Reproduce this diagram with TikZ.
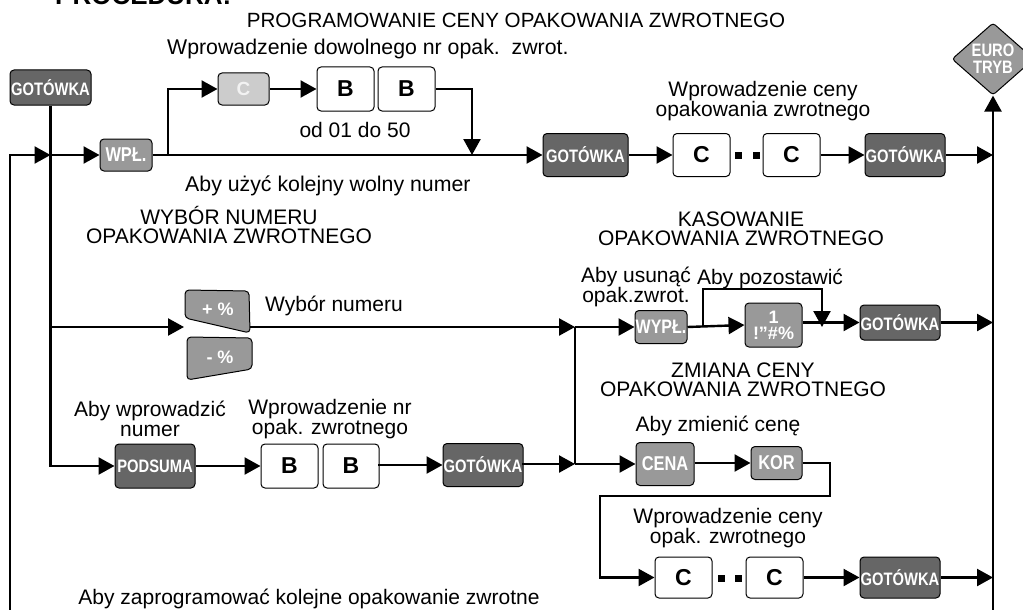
\documentclass[tikz,border=0pt]{standalone}
\usepackage{fontspec}
\setmainfont{Liberation Sans}
\newfontfamily\keyfont{Liberation Sans}[FakeStretch=0.82]
\usetikzlibrary{arrows.meta,shapes.geometric}
\definecolor{kdark}{HTML}{666666}
\definecolor{kmid}{HTML}{999999}
\definecolor{klight}{HTML}{CCCCCC}
\definecolor{ktxt}{HTML}{F2F2F2}
\tikzset{
  ln/.style={line width=2.4pt},
  arr/.style={line width=2.4pt,-{Triangle[length=16pt,width=17pt]}},
  key/.style={draw=black,line width=1pt,rounded corners=4pt,inner sep=0pt,text=white,
    font=\keyfont\bfseries\fontsize{18}{18}\selectfont,align=center},
  dark/.style={key,fill=kdark},
  mid/.style={key,fill=kmid,font=\keyfont\bfseries\fontsize{20}{20}\selectfont},
  light/.style={key,fill=klight,text=ktxt},
  wbox/.style={draw=black,line width=1pt,rounded corners=4pt,fill=white,inner sep=0pt,
    font=\bfseries\fontsize{23}{23}\selectfont},
  lbl/.style={font=\fontsize{21}{19.5}\selectfont,align=center,inner sep=0pt},
  dotsq/.style={fill=black,inner sep=0pt,minimum size=7pt},
}
\begin{document}
\begin{tikzpicture}[x=1pt,y=-1pt]
\useasboundingbox (0,0) rectangle (1023,610);

% ---- keys ----
\node[dark,minimum width=81,minimum height=35] (got1) at (50.5,87.5) {GOTÓWKA};
\node[mid,minimum width=52,minimum height=32] (wpl) at (126,155) {WPŁ.};
\node[light,minimum width=51,minimum height=32,font=\bfseries\fontsize{19}{19}\selectfont] (ck) at (243.5,89) {C};
\node[wbox,minimum width=57,minimum height=44] (b1) at (345.5,89) {B};
\node[wbox,minimum width=57,minimum height=44] (b2) at (406.5,89) {B};
\node[dark,minimum width=85,minimum height=43] (got2) at (585.5,155) {GOTÓWKA};
\node[wbox,minimum width=57,minimum height=43] (c1) at (701.5,155) {C};
\node[wbox,minimum width=57,minimum height=43] (c2) at (791.5,155) {C};
\node[dotsq] (d1) at (738.5,155) {};
\node[dotsq] (d2) at (756.5,155) {};
\node[dark,minimum width=80,minimum height=43] (got3) at (905,155) {GOTÓWKA};
\node[diamond,draw=black,line width=1pt,fill=kmid,rounded corners=3pt,inner sep=0pt,
  minimum width=82,minimum height=55,text=white,align=center,
  font=\keyfont\bfseries\fontsize{18}{17}\selectfont] (euro) at (993,59) {EURO\\TRYB};

% +% and -% keys
\draw[line width=1pt,fill=kmid,rounded corners=4pt] (185,290) -- (249,291) -- (250,333) -- (185,318) -- cycle;
\draw[line width=1pt,fill=kmid,rounded corners=4pt] (187,337) -- (252,338) -- (252,369) -- (187,380) -- cycle;
\node[text=white,font=\bfseries\fontsize{18}{18}\selectfont] (pk) at (218,309) {+ \%};
\node[text=white,font=\bfseries\fontsize{18}{18}\selectfont] (mk) at (220,357) {- \%};

\node[mid,minimum width=52,minimum height=33,font=\keyfont\bfseries\fontsize{19.5}{19.5}\selectfont] (wypl) at (661,327) {WYPŁ.};
\node[mid,minimum width=57,minimum height=44,font=\bfseries\fontsize{18}{16}\selectfont] (one) at (773.5,325) {1\\!”\#\%};
\node[dark,minimum width=80,minimum height=35] (got4) at (900,322.5) {GOTÓWKA};

\node[dark,minimum width=80,minimum height=44] (podsuma) at (155,466) {PODSUMA};
\node[wbox,minimum width=57,minimum height=44] (b3) at (289.5,466) {B};
\node[wbox,minimum width=56,minimum height=44] (b4) at (351,466) {B};
\node[dark,minimum width=80,minimum height=43] (got5) at (483,465) {GOTÓWKA};
\node[mid,minimum width=58,minimum height=43,font=\keyfont\bfseries\fontsize{20}{20}\selectfont] (cena) at (665,464) {CENA};
\node[mid,minimum width=51,minimum height=33] (kor) at (776.5,463) {KOR};

\node[wbox,minimum width=57,minimum height=41] (c3) at (683.5,577.5) {C};
\node[wbox,minimum width=57,minimum height=41] (c4) at (774.5,577.5) {C};
\node[dotsq] (d3) at (721.5,578) {};
\node[dotsq] (d4) at (738.5,578) {};
\node[dark,minimum width=80,minimum height=41] (got6) at (900,577.5) {GOTÓWKA};

% ---- coordinates ----
\coordinate (lb) at (10,610);
\coordinate (j1) at (50.5,155);
\coordinate (br1) at (168,155);
\coordinate (dn1) at (472,155);
\coordinate (r1) at (993,155);
\coordinate (rb) at (993,610);
\coordinate (j2) at (50.5,327);
\coordinate (pkw) at (184,327);
\coordinate (pke) at (250,327);
\coordinate (m1) at (575,327);
\coordinate (m2) at (575,464);
\coordinate (br2) at (703,327);
\coordinate (up2) at (703,289);
\coordinate (dn2) at (822,327);
\coordinate (r2) at (993,322.5);
\coordinate (k2a) at (830,496);
\coordinate (k2) at (600,496);
\coordinate (r3) at (993,577.5);

% ---- connectors ----
\draw[arr] (got1.south) |- (podsuma.west);
\draw[arr] (lb) |- (j1);
\draw[arr] (j1) -- (wpl.west);
\draw[arr] (wpl.east) -- (got2.west);
\draw[arr] (br1) |- (ck.west);
\draw[arr] (ck.east) -- (b1.west);
\draw[arr] (b2.east) -| (dn1);
\draw[arr] (got2.east) -- (c1.west);
\draw[arr] (c2.east) -- (got3.west);
\draw[arr] (got3.east) -- (r1);
\draw[arr] (rb) -- (euro.south);
\draw[arr] (j2) -- (pkw);
\draw[arr] (pke) -- (m1);
\draw[arr] (m1) -- (wypl.west);
\draw[ln] (m1) -- (m2);
\draw[arr] (m2) -- (cena.west);
\draw[arr] (wypl.east) -- (one.west);
\draw[arr] (br2) -- (up2) -| (dn2);
\draw[arr] (one.east |- got4.west) -- (got4.west);
\draw[arr] (got4.east) -- (r2);
\draw[arr] (podsuma.east) -- (b3.west);
\draw[arr] (b4.east) |- (got5.west);
\draw[arr] (got5.east) |- (m2);
\draw[arr] (cena.east |- kor.west) -- (kor.west);
\draw[arr] (kor.east) -| (k2a) -- (k2) |- (c3.west);
\draw[arr] (c4.east) -- (got6.west);
\draw[arr] (got6.east) -- (r3);

% ---- texts ----
\node[anchor=base west,inner sep=0pt,font=\bfseries\fontsize{26}{26}\selectfont] (proc) at (55,5) {PROCEDURA:};
\node[anchor=base,inner sep=0pt,font=\fontsize{20.6}{20}\selectfont] (title) at (516,28) {PROGRAMOWANIE CENY OPAKOWANIA ZWROTNEGO};
\node[anchor=base west,inner sep=0pt,font=\fontsize{21.3}{20}\selectfont] (t1) at (167,55) {Wprowadzenie dowolnego nr opak.\ \ zwrot.};
\node[anchor=base,inner sep=0pt,font=\fontsize{21}{20}\selectfont] (t2) at (355,137) {od 01 do 50};
\node[anchor=base west,inner sep=0pt,font=\fontsize{21.3}{20}\selectfont] (t3) at (185,191) {Aby użyć kolejny wolny numer};
\node[lbl] (t4) at (763,101) {Wprowadzenie ceny\\opakowania zwrotnego};
\node[lbl] (t5) at (229,225) {WYBÓR NUMERU\\OPAKOWANIA ZWROTNEGO};
\node[lbl] (t6) at (741,229) {KASOWANIE\\OPAKOWANIA ZWROTNEGO};
\node[lbl] (t7) at (636,287) {Aby usunąć\\opak.zwrot.};
\node[lbl] (t8) at (770,279) {Aby pozostawić};
\node[lbl] (t9) at (334,306) {Wybór numeru};
\node[lbl] (t10) at (743,380) {ZMIANA CENY\\OPAKOWANIA ZWROTNEGO};
\node[lbl] (t11) at (150,419) {Aby wprowadzić\\numer};
\node[lbl] (t12) at (330,419) {Wprowadzenie nr\\opak. zwrotnego};
\node[lbl] (t13) at (718,426) {Aby zmienić cenę};
\node[lbl] (t14) at (728,528) {Wprowadzenie ceny\\opak. zwrotnego};
\node[lbl] (t15) at (309,599) {Aby zaprogramować kolejne opakowanie zwrotne};
\end{tikzpicture}
\end{document}
